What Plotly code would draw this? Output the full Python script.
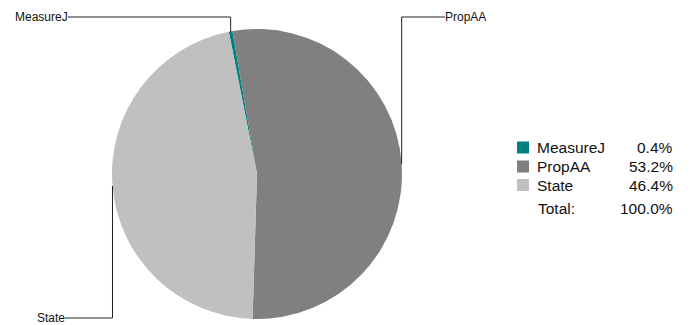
import math
import plotly.graph_objects as go

labels = ["MeasureJ", "PropAA", "State"]
values = [0.4, 53.2, 46.4]
colors = ["#008080", "#808080", "#c0c0c0"]
total_label = "Total:"

W, H = 691, 325
cx, cy, R = 257, 174, 145
rotation = -11.2
FONT = "Liberation Sans, Arial, sans-serif"

def px(x):
    return x / W

def py(y):
    return 1 - y / H

fig = go.Figure()
fig.add_trace(go.Pie(
    labels=labels, values=values, sort=False, direction="clockwise",
    rotation=rotation, textinfo="none", hoverinfo="label+percent",
    marker=dict(colors=colors, line=dict(width=0)),
    domain=dict(x=[px(cx - R), px(cx + R)], y=[py(cy + R), py(cy - R)]),
    showlegend=False,
))

shapes = []
annotations = []
tot = sum(values)
# leader lines: (label end x, label y, side)
leader = {
    "MeasureJ": (68, 17, "left"),
    "PropAA": (445, 17, "right"),
    "State": (65, 318, "left"),
}
acc = 0.0
for lab, v in zip(labels, values):
    mid = rotation + (acc + v / 2) / tot * 360
    acc += v
    a = math.radians(mid)
    sx = cx + R * math.sin(a)
    sy = cy - R * math.cos(a)
    lx, ly, side = leader[lab]
    line = dict(color="#222", width=1)
    shapes.append(dict(type="line", xref="paper", yref="paper",
                       x0=px(sx), y0=py(sy), x1=px(sx), y1=py(ly), line=line))
    shapes.append(dict(type="line", xref="paper", yref="paper",
                       x0=px(sx), y0=py(ly), x1=px(lx), y1=py(ly), line=line))
    annotations.append(dict(
        xref="paper", yref="paper", x=px(lx), y=py(ly), text=lab,
        showarrow=False, xanchor="right" if side == "left" else "left",
        yanchor="middle", xshift=1 if side == "left" else -1, borderpad=0,
        font=dict(size=12, color="#111", family=FONT)))

# custom legend
LF = 15.5
row_y = [147.5, 166.5, 185]
for i, (lab, v, c) in enumerate(zip(labels, values, colors)):
    y = row_y[i]
    shapes.append(dict(type="rect", xref="paper", yref="paper",
                       x0=px(517), x1=px(529), y0=py(y - 6), y1=py(y + 6),
                       fillcolor=c, line=dict(width=0)))
    annotations.append(dict(xref="paper", yref="paper", x=px(535), y=py(y),
                            text=lab, showarrow=False, xanchor="left", yanchor="middle",
                            font=dict(size=LF, color="#111", family=FONT)))
    annotations.append(dict(xref="paper", yref="paper", x=px(675), y=py(y),
                            text=f"{v / tot * 100:.1f}%", showarrow=False, xanchor="right",
                            yanchor="middle",
                            font=dict(size=LF, color="#111", family=FONT)))
annotations.append(dict(xref="paper", yref="paper", x=px(536), y=py(208),
                        text=total_label, showarrow=False, xanchor="left", yanchor="middle",
                        font=dict(size=LF, color="#111", family=FONT)))
annotations.append(dict(xref="paper", yref="paper", x=px(675), y=py(208),
                        text=f"{tot / tot * 100:.1f}%", showarrow=False, xanchor="right",
                        yanchor="middle",
                        font=dict(size=LF, color="#111", family=FONT)))

fig.update_layout(
    width=W, height=H, margin=dict(l=0, r=0, t=0, b=0),
    paper_bgcolor="white", plot_bgcolor="white",
    shapes=shapes, annotations=annotations,
)
fig.write_html("out.html", config={"displayModeBar": False},
               post_script="document.body.style.margin='0';document.body.style.overflow='hidden';")
